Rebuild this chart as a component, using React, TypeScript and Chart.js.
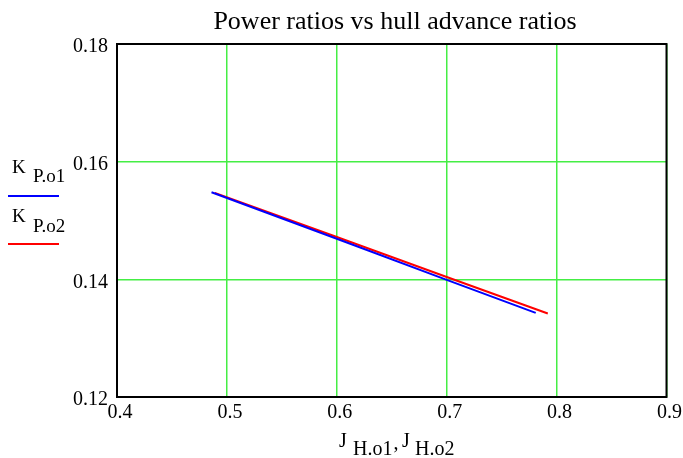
import React, { useEffect, useRef } from "react";
import { Chart, registerables } from "chart.js";

Chart.register(...registerables);

const title = "Power ratios vs hull advance ratios";
const xTicks = [0.4, 0.5, 0.6, 0.7, 0.8, 0.9];
const yTicks = [0.12, 0.14, 0.16, 0.18];

const series1Label = ["K", "P.o1"];
const series2Label = ["K", "P.o2"];
const xAxisLabel = [["J", "H.o1"], ["J", "H.o2"]];

const blueX = [0.486, 0.6, 0.7, 0.781];
const blueY = [0.1548, 0.1469, 0.1399, 0.1343];
const redX = [0.489, 0.6, 0.7, 0.792];
const redY = [0.1547, 0.1472, 0.1404, 0.1342];

const FONT = "'Liberation Serif', 'Times New Roman', serif";

export default function App() {
  const ref = useRef<HTMLCanvasElement | null>(null);

  useEffect(() => {
    const canvas = ref.current;
    if (!canvas) return;

    const decor = {
      id: "decor",
      afterDraw(chart: any) {
        const ctx = chart.ctx as CanvasRenderingContext2D;
        const a = chart.chartArea;
        ctx.save();
        // frame
        ctx.strokeStyle = "#000";
        ctx.lineWidth = 2;
        ctx.strokeRect(a.left, a.top, a.right - a.left, a.bottom - a.top);
        // title
        ctx.fillStyle = "#000";
        ctx.font = `26px ${FONT}`;
        ctx.textAlign = "center";
        ctx.textBaseline = "alphabetic";
        ctx.fillText(title, 395, 29);

        ctx.textAlign = "left";
        const drawSub = (main: string, sub: string, x: number, y: number, subX: number, mainSize: number, subSize: number, drop: number) => {
          ctx.font = `${mainSize}px ${FONT}`;
          ctx.fillText(main, x, y);
          ctx.font = `${subSize}px ${FONT}`;
          ctx.fillText(sub, subX, y + drop);
          return subX + ctx.measureText(sub).width;
        };
        // legend
        drawSub(series1Label[0], series1Label[1], 12, 173, 33, 19, 19, 9);
        ctx.strokeStyle = "#0000ff";
        ctx.lineWidth = 2;
        ctx.beginPath();
        ctx.moveTo(8, 196);
        ctx.lineTo(59, 196);
        ctx.stroke();
        drawSub(series2Label[0], series2Label[1], 12, 222, 33, 19, 19, 10);
        ctx.strokeStyle = "#ff0000";
        ctx.beginPath();
        ctx.moveTo(8, 244);
        ctx.lineTo(59, 244);
        ctx.stroke();

        // x axis label
        const end1 = drawSub(xAxisLabel[0][0], xAxisLabel[0][1], 339, 447, 353, 20, 20, 8);
        ctx.font = `20px ${FONT}`;
        ctx.fillText(",", end1 + 1, 449);
        drawSub(xAxisLabel[1][0], xAxisLabel[1][1], 402, 447, 415, 20, 20, 8);
        ctx.restore();
      },
    };

    const chart = new Chart(canvas, {
      type: "line",
      data: {
        datasets: [
          {
            label: "K P.o1",
            data: blueX.map((v, i) => ({ x: v, y: blueY[i] })),
            borderColor: "#0000ff",
            borderWidth: 2,
            pointRadius: 0,
            tension: 0,
          },
          {
            label: "K P.o2",
            data: redX.map((v, i) => ({ x: v, y: redY[i] })),
            borderColor: "#ff0000",
            borderWidth: 2,
            pointRadius: 0,
            tension: 0,
          },
        ],
      },
      options: {
        animation: false,
        responsive: false,
        maintainAspectRatio: false,
        layout: { padding: { left: 0, right: 15, top: 44, bottom: 31 } },
        plugins: {
          legend: { display: false },
          title: { display: false },
          tooltip: { enabled: false },
        },
        scales: {
          x: {
            type: "linear",
            min: xTicks[0],
            max: xTicks[xTicks.length - 1],
            afterBuildTicks: (s: any) => {
              s.ticks = xTicks.map((v) => ({ value: v }));
            },
            afterFit: (s: any) => {
              s.height = 30;
            },
            grid: { color: "#44ee44", lineWidth: 1.5, drawTicks: false },
            border: { display: false },
            ticks: {
              color: "#000",
              font: { family: FONT, size: 20 },
              padding: 4,
              labelOffset: 3,
              maxRotation: 0,
              autoSkip: false,
              callback: (v: any) => Number(v).toFixed(1),
            },
          },
          y: {
            type: "linear",
            min: yTicks[0],
            max: yTicks[yTicks.length - 1],
            afterBuildTicks: (s: any) => {
              s.ticks = yTicks.map((v) => ({ value: v }));
            },
            afterFit: (s: any) => {
              s.width = 117;
            },
            grid: { color: "#44ee44", lineWidth: 1.5, drawTicks: false },
            border: { display: false },
            ticks: {
              color: "#000",
              font: { family: FONT, size: 20 },
              padding: 9,
              labelOffset: 3,
              autoSkip: false,
              callback: (v: any) => Number(v).toFixed(2),
            },
          },
        },
      },
      plugins: [decor],
    });

    return () => chart.destroy();
  }, []);

  return (
    <div style={{ position: "fixed", left: 0, top: 0, width: 683, height: 458, background: "#fff" }}>
      <canvas ref={ref} width={683} height={458} style={{ width: 683, height: 458 }} />
    </div>
  );
}
